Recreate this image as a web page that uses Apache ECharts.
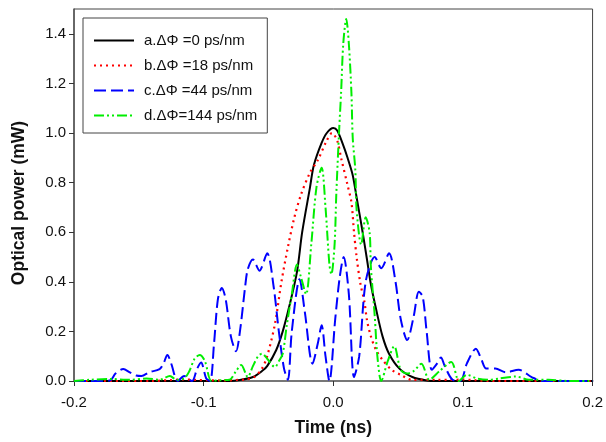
<!DOCTYPE html>
<html>
<head>
<meta charset="utf-8">
<script src="https://cdn.jsdelivr.net/npm/echarts@6/dist/echarts.min.js"></script>
<style>html,body{margin:0;padding:0;background:#fff}#c{width:606px;height:442px}</style>
</head>
<body>
<div id="c"></div>
<script>
// ---- data ----
var seriesNames = ['a.\u0394\u03A6 =0 ps/nm', 'b.\u0394\u03A6 =18 ps/nm', 'c.\u0394\u03A6 =44 ps/nm', 'd.\u0394\u03A6=144 ps/nm'];
var xTicks = [-0.2, -0.1, 0.0, 0.1, 0.2];
var yTicks = [0, 0.2, 0.4, 0.6, 0.8, 1.0, 1.2, 1.4];

var tA = [-0.2, -0.08, -0.072, -0.062, -0.055, -0.051, -0.044, -0.039, -0.034, -0.028, -0.024, -0.018, -0.015, -0.009, -0.005, 0.0, 0.003, 0.007, 0.011, 0.015, 0.018, 0.022, 0.026, 0.029, 0.033, 0.038, 0.043, 0.051, 0.061, 0.072, 0.08, 0.2];
var pA = [0, 0, 0.004, 0.016, 0.04, 0.06, 0.125, 0.2, 0.3, 0.44, 0.6, 0.78, 0.87, 0.96, 1.0, 1.02, 1.01, 0.96, 0.9, 0.83, 0.74, 0.62, 0.49, 0.39, 0.29, 0.18, 0.11, 0.05, 0.016, 0.002, 0, 0];

var tB = [-0.2, -0.14, -0.125, -0.115, -0.105, -0.095, -0.085, -0.075, -0.068, -0.061, -0.055, -0.051, -0.045, -0.040, -0.035, -0.030, -0.025, -0.018, -0.012, -0.005, -0.001, 0.003, 0.006, 0.011, 0.014, 0.016, 0.018, 0.021, 0.024, 0.026, 0.029, 0.033, 0.038, 0.045, 0.052, 0.061, 0.07, 0.08, 0.09, 0.1, 0.11, 0.12, 0.2];
var pB = [0, 0, 0.004, 0.006, 0.004, 0.003, 0.002, 0.004, 0.006, 0.016, 0.05, 0.1, 0.23, 0.4, 0.54, 0.66, 0.75, 0.84, 0.89, 0.97, 1.0, 0.97, 0.9, 0.79, 0.72, 0.6, 0.5, 0.39, 0.32, 0.245, 0.18, 0.125, 0.085, 0.045, 0.025, 0.004, 0.005, 0.005, 0.004, 0.006, 0.003, 0, 0];

var tC = [-0.2, -0.18, -0.172, -0.168, -0.162, -0.157, -0.152, -0.148, -0.142, -0.134, -0.131, -0.128, -0.125, -0.12, -0.115, -0.109, -0.105, -0.102, -0.098, -0.095, -0.092, -0.089, -0.086, -0.083, -0.079, -0.075, -0.072, -0.068, -0.066, -0.062, -0.057, -0.051, -0.046, -0.042, -0.038, -0.035, -0.032, -0.026, -0.022, -0.016, -0.012, -0.009, -0.006, -0.003, 0.0015, 0.005, 0.008, 0.012, 0.016, 0.02, 0.025, 0.032, 0.037, 0.043, 0.048, 0.052, 0.057, 0.062, 0.066, 0.069, 0.072, 0.076, 0.08, 0.083, 0.086, 0.092, 0.098, 0.103, 0.11, 0.114, 0.118, 0.125, 0.133, 0.143, 0.153, 0.161, 0.2];
var pC = [0, 0, 0.003, 0.03, 0.048, 0.035, 0.022, 0.02, 0.035, 0.048, 0.07, 0.105, 0.07, 0.0, 0.02, 0.0, 0.05, 0.075, 0.01, 0.0, 0.15, 0.33, 0.375, 0.33, 0.18, 0.12, 0.2, 0.38, 0.45, 0.49, 0.445, 0.515, 0.38, 0.2, 0.05, 0.005, 0.2, 0.41, 0.28, 0.07, 0.15, 0.225, 0.1, 0.0, 0.25, 0.42, 0.5, 0.35, 0.016, 0.1, 0.4, 0.5, 0.455, 0.515, 0.4, 0.25, 0.165, 0.26, 0.36, 0.34, 0.2, 0.045, 0.07, 0.095, 0.06, 0.005, 0.0, 0.07, 0.13, 0.09, 0.05, 0.05, 0.035, 0.045, 0.016, 0.0, 0];

var tD = [-0.2, -0.188, -0.172, -0.157, -0.144, -0.134, -0.126, -0.121, -0.115, -0.111, -0.107, -0.103, -0.099, -0.094, -0.088, -0.08, -0.075, -0.071, -0.066, -0.062, -0.058, -0.055, -0.051, -0.045, -0.042, -0.039, -0.036, -0.032, -0.028, -0.025, -0.021, -0.017, -0.013, -0.009, -0.006, -0.003, -0.0015, 0.001, 0.0023, 0.0046, 0.006, 0.0077, 0.010, 0.012, 0.014, 0.015, 0.017, 0.018, 0.0215, 0.025, 0.028, 0.029, 0.032, 0.034, 0.037, 0.042, 0.047, 0.052, 0.057, 0.062, 0.068, 0.074, 0.082, 0.091, 0.097, 0.103, 0.111, 0.12, 0.128, 0.141, 0.151, 0.166, 0.182, 0.2];
var pD = [0, 0.005, 0.008, 0.005, 0.01, 0.005, 0.02, 0.005, 0.01, 0.04, 0.09, 0.105, 0.08, 0.0, 0.003, 0.005, 0.04, 0.065, 0.016, 0.06, 0.1, 0.11, 0.09, 0.056, 0.08, 0.11, 0.22, 0.35, 0.47, 0.42, 0.35, 0.55, 0.78, 0.86, 0.7, 0.47, 0.43, 0.55, 0.75, 1.02, 1.16, 1.36, 1.46, 1.36, 1.16, 0.98, 0.85, 0.69, 0.55, 0.66, 0.6, 0.46, 0.26, 0.1, 0.0, 0.08, 0.14, 0.045, 0.03, 0.04, 0.07, 0.005, 0.04, 0.077, 0.0, 0.025, 0.01, 0.005, 0.01, 0.018, 0.005, 0.005, 0, 0];

function zip(t, p) { return t.map(function (v, i) { return [v, p[i]]; }); }

var chart = echarts.init(document.getElementById('c'));
var font = 'Liberation Sans, Arial, sans-serif';
var mk = function (name, t, p, color, type, w) {
  return {
    name: name, type: 'line', data: zip(t, p), showSymbol: false, symbol: 'none',
    smooth: 0.3, lineStyle: { color: color, width: w, type: type }, itemStyle: { color: color },
    animation: false
  };
};
chart.setOption({
  backgroundColor: '#fff',
  animation: false,
  grid: { left: 74, right: 12, top: 9, bottom: 61, show: true, borderColor: '#444', borderWidth: 1 },
  legend: {
    orient: 'vertical', left: 83, top: 18, backgroundColor: '#fff',
    borderColor: '#444', borderWidth: 1, borderRadius: 0,
    padding: [15, 10, 10, 10], itemWidth: 40, itemHeight: 14, itemGap: 10,
    itemStyle: { opacity: 0 },
    textStyle: { fontFamily: font, fontSize: 15, color: '#111', padding: [0, 0, 0, 5] },
    data: seriesNames
  },
  xAxis: {
    type: 'value', min: -0.2, max: 0.2, interval: 0.1,
    name: 'Time (ns)', nameLocation: 'middle', nameGap: 38,
    nameTextStyle: { fontFamily: font, fontSize: 17.5, fontWeight: 'bold', color: '#111' },
    axisLine: { onZero: false, lineStyle: { color: '#777', width: 2 } },
    axisTick: { show: true, inside: false, length: 5, lineStyle: { color: '#333' }, customValues: xTicks },
    axisLabel: { fontFamily: font, fontSize: 15, color: '#111', margin: 14, customValues: xTicks,
      formatter: function (v) { return v.toFixed(1); } },
    splitLine: { show: false }
  },
  yAxis: {
    type: 'value', min: 0, max: 1.5, interval: 0.2,
    name: 'Optical power (mW)', nameLocation: 'middle', nameGap: 46,
    nameTextStyle: { fontFamily: font, fontSize: 17.5, fontWeight: 'bold', color: '#111', padding: [0, 16, 0, 0] },
    axisLine: { show: true, onZero: false, lineStyle: { color: '#555', width: 1.5 } },
    axisTick: { show: true, inside: false, length: 5, lineStyle: { color: '#333' }, customValues: yTicks },
    axisLabel: { fontFamily: font, fontSize: 15, color: '#111', margin: 8, customValues: yTicks,
      formatter: function (v) { return v.toFixed(1); } },
    splitLine: { show: false }
  },
  series: [
    mk(seriesNames[0], tA, pA, '#000000', 'solid', 2),
    mk(seriesNames[1], tB, pB, '#ff0000', [2, 4], 2.2),
    mk(seriesNames[2], tC, pC, '#0000ff', [12, 5], 2),
    mk(seriesNames[3], tD, pD, '#00ee00', [10, 3, 2, 3, 2, 3], 2)
  ]
});
</script>
</body>
</html>
